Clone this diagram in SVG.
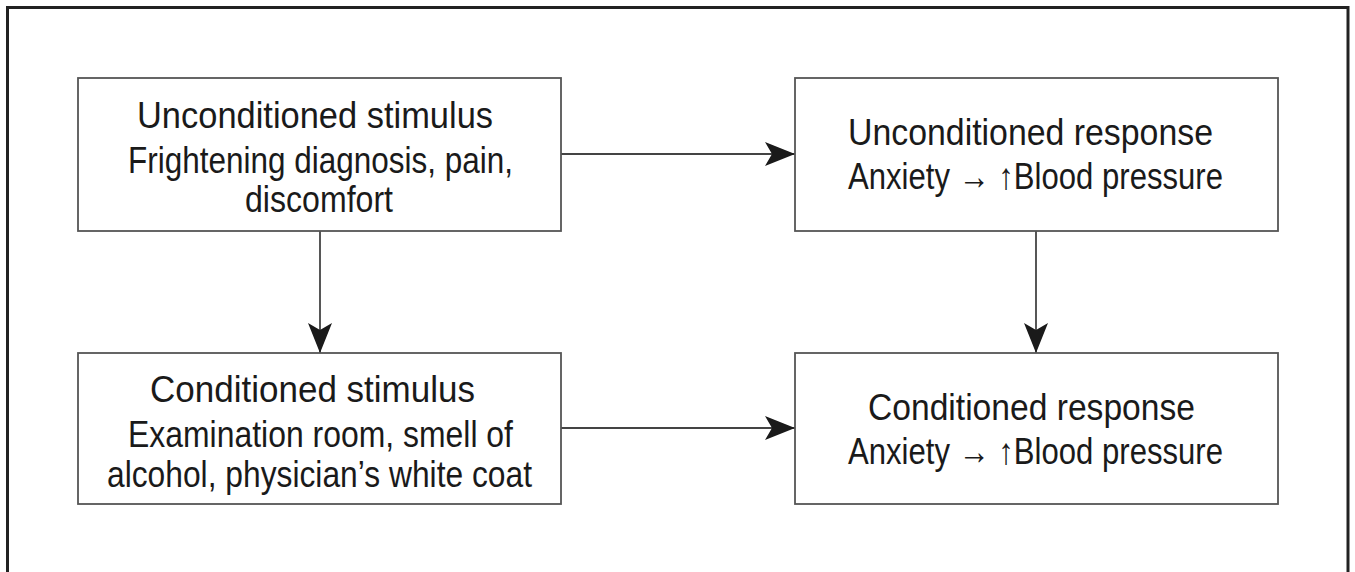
<svg xmlns="http://www.w3.org/2000/svg" width="1355" height="572" viewBox="0 0 1355 572">
  <style>
    .frame { fill: none; stroke: #222; stroke-width: 3; }
    .box { fill: #fff; stroke: #555; stroke-width: 1.8; }
    .conn { fill: none; stroke: #444; stroke-width: 1.8; }
    .t { font-family: "Liberation Sans Narrow", "Liberation Sans", Arial, sans-serif; font-size: 37px; fill: #1a1a1a; text-anchor: middle; }
  </style>
  <defs>
    <marker id="arrow" markerUnits="userSpaceOnUse" markerWidth="34" markerHeight="28" refX="32" refY="0" orient="auto" overflow="visible">
      <path d="M2,-12 L32,0 L2,12 L9,0 Z" fill="#1a1a1a"/>
    </marker>
  </defs>
  <rect class="frame" x="7.5" y="7.5" width="1340.5" height="600"/>

  <g id="connectors">
    <line class="conn" x1="561" y1="154" x2="795" y2="154" marker-end="url(#arrow)"/>
    <line class="conn" x1="561" y1="428" x2="795" y2="428" marker-end="url(#arrow)"/>
    <line class="conn" x1="320" y1="231" x2="320" y2="353" marker-end="url(#arrow)"/>
    <line class="conn" x1="1036" y1="231" x2="1036" y2="353" marker-end="url(#arrow)"/>
  </g>

  <g id="unconditioned-stimulus">
    <rect class="box" x="78" y="78" width="483" height="153"/>
    <text class="t" x="315" y="128" textLength="356" lengthAdjust="spacingAndGlyphs">Unconditioned stimulus</text>
    <text class="t" x="320.5" y="173" textLength="385" lengthAdjust="spacingAndGlyphs">Frightening diagnosis, pain,</text>
    <text class="t" x="319" y="212" textLength="148" lengthAdjust="spacingAndGlyphs">discomfort</text>
  </g>

  <g id="unconditioned-response">
    <rect class="box" x="795" y="78" width="483" height="153"/>
    <text class="t" x="1030.5" y="145" textLength="365" lengthAdjust="spacingAndGlyphs">Unconditioned response</text>
    <text class="t" x="1035.5" y="189" textLength="375" lengthAdjust="spacingAndGlyphs">Anxiety → ↑Blood pressure</text>
  </g>

  <g id="conditioned-stimulus">
    <rect class="box" x="78" y="353" width="483" height="151"/>
    <text class="t" x="312.5" y="402" textLength="325" lengthAdjust="spacingAndGlyphs">Conditioned stimulus</text>
    <text class="t" x="320.5" y="447" textLength="385" lengthAdjust="spacingAndGlyphs">Examination room, smell of</text>
    <text class="t" x="319.5" y="487" textLength="425" lengthAdjust="spacingAndGlyphs">alcohol, physician’s white coat</text>
  </g>

  <g id="conditioned-response">
    <rect class="box" x="795" y="353" width="483" height="151"/>
    <text class="t" x="1031.5" y="420" textLength="327" lengthAdjust="spacingAndGlyphs">Conditioned response</text>
    <text class="t" x="1035.5" y="464" textLength="375" lengthAdjust="spacingAndGlyphs">Anxiety → ↑Blood pressure</text>
  </g>
</svg>
